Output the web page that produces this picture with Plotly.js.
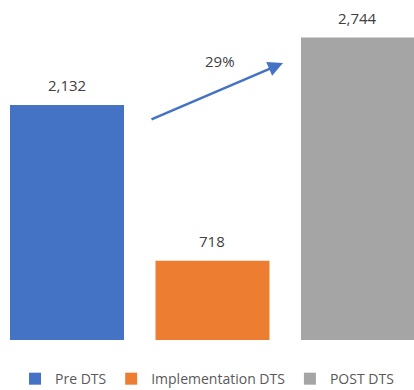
<!DOCTYPE html>
<html>
<head>
<meta charset="utf-8">
<script src="https://cdn.plot.ly/plotly-3.0.1.min.js"></script>
<style>html,body{margin:0;padding:0;background:#fff;}#chart{width:414px;height:390px;}</style>
</head>
<body>
<div id="chart"></div>
<script>
const categories = ["Pre DTS", "Implementation DTS", "POST DTS"];
const values = [2132, 718, 2744];
const colors = ["#4472C4", "#ED7D31", "#A5A5A5"];
const growthLabel = "29%";

const traces = categories.map((c, i) => ({
  type: "bar",
  name: c,
  x: [c],
  y: [values[i]],
  width: 0.7835,
  marker: {color: colors[i]},
  hoverinfo: "skip"
}));

const fmt = v => v.toLocaleString("en-US");
const annotations = categories.map((c, i) => ({
  x: c, y: values[i], xref: "x", yref: "y",
  text: fmt(values[i]), showarrow: false,
  yanchor: "middle", yshift: 20,
  font: {family: "Open Sans, sans-serif", size: 15, color: "#404040"}
}));

// growth arrow from Pre to POST
annotations.push({
  x: 1.4845, y: 2513, ax: 0.5704, ay: 1996,
  xref: "x", yref: "y", axref: "x", ayref: "y",
  text: "", showarrow: true, arrowhead: 2, arrowsize: 1.2, arrowwidth: 2.5,
  arrowcolor: "#4472C4", standoff: 0, startstandoff: 0
});
annotations.push({
  x: 1.055, y: 2535, xref: "x", yref: "y",
  text: growthLabel, showarrow: false, yanchor: "middle",
  font: {family: "Open Sans, sans-serif", size: 15, color: "#404040"}
});

const layout = {
  width: 414, height: 390,
  margin: {l: 0, r: 0, t: 0, b: 50, autoexpand: false},
  paper_bgcolor: "#fff", plot_bgcolor: "#fff",
  barmode: "overlay",
  showlegend: true,
  legend: {
    orientation: "h", x: 0.5, xanchor: "center",
    yref: "container", y: 0.028, yanchor: "middle",
    font: {family: "Open Sans, sans-serif", size: 14, color: "#595959"},
    itemwidth: 30, traceorder: "normal"
  },
  xaxis: {range: [-0.4605, 2.385], visible: false, fixedrange: true},
  yaxis: {range: [0, 3085], visible: false, fixedrange: true},
  annotations: annotations
};

Plotly.newPlot("chart", traces, layout, {displayModeBar: false, staticPlot: true});
</script>
</body>
</html>
